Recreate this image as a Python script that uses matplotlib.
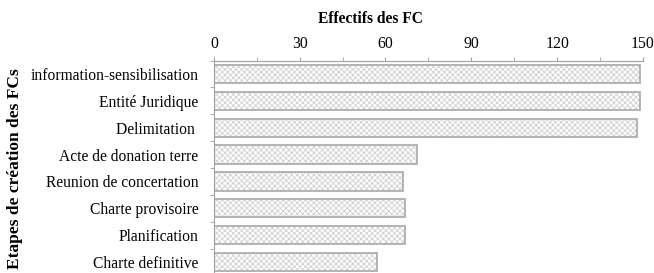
import numpy as np
import matplotlib.pyplot as plt

# Données
etapes = ["information-sensibilisation", "Entité Juridique", "Delimitation ",
          "Acte de donation terre", "Reunion de concertation", "Charte provisoire",
          "Planification", "Charte definitive"]
effectifs = [149, 149, 148, 71, 66, 67, 67, 57]
xticks = [0, 30, 60, 90, 120, 150]

plt.rcParams['font.family'] = ['Liberation Serif', 'DejaVu Serif']
plt.rcParams['hatch.linewidth'] = 0.6

fig = plt.figure(figsize=(6.54, 2.73), dpi=100)
ax = fig.add_axes([0.327, -0.009, 0.656, 0.787])

y = np.arange(len(etapes))
ax.barh(y, effectifs, height=0.68, color='white', hatch='xxxxxx',
        edgecolor='#cfcfcf', linewidth=0)
ax.barh(y, effectifs, height=0.68, color='none', edgecolor='#a8a8a8', linewidth=1.2)

ax.set_ylim(len(etapes) - 0.5, -0.5)
ax.set_xlim(0, 150)

ax.xaxis.tick_top()
ax.xaxis.set_label_position('top')
ax.set_xticks(xticks)
ax.set_xticks(np.arange(15, 150, 30), minor=True)
ax.tick_params(axis='x', which='both', direction='out', length=3, color='#a0a0a0',
               labelsize=11.3, pad=3)
ax.set_xlabel('Effectifs des FC', fontweight='bold', fontsize=11.2)
ax.xaxis.set_label_coords(0.366, 1.0 + 42 / 215)
ax.xaxis.label.set_va('center')

ax.set_yticks(y)
ax.set_yticklabels(etapes)
ax.set_yticks(np.arange(-0.5, len(etapes)), minor=True)
ax.tick_params(axis='y', which='major', length=0, labelsize=11.2, pad=11)
ax.tick_params(axis='y', which='minor', direction='out', length=3, color='#a0a0a0')
ax.set_ylabel('Etapes de création des FCs', fontweight='bold', fontsize=12.5)
ax.yaxis.set_label_coords(-199 / 429, 0.495)
ax.yaxis.label.set_va('center')

for s in ['right', 'bottom']:
    ax.spines[s].set_visible(False)
for s in ['top', 'left']:
    ax.spines[s].set_color('#a0a0a0')

fig.savefig('out.png', dpi=100)
